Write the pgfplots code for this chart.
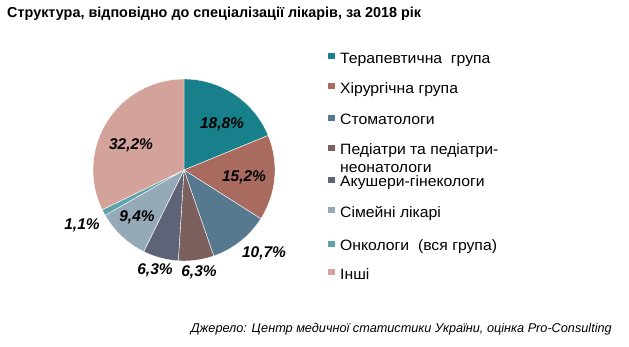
\documentclass[border=0pt]{standalone}
\usepackage{pgfplots}
\pgfplotsset{compat=1.18}
\usepackage{pgfplotstable}
\usepackage{fontspec}
\setmainfont{Liberation Sans}
\newfontfamily\legfont[FakeStretch=1.05]{Liberation Sans}
\definecolor{c0}{HTML}{18808A}
\definecolor{c1}{HTML}{A96B60}
\definecolor{c2}{HTML}{56798F}
\definecolor{c3}{HTML}{7B605E}
\definecolor{c4}{HTML}{5F6377}
\definecolor{c5}{HTML}{95A9B7}
\definecolor{c6}{HTML}{5EA3AC}
\definecolor{c7}{HTML}{D3A29B}
\pgfplotstableread[col sep=comma]{
idx,value,lx,ly
0,18.8,222,124
1,15.2,244,177
2,10.7,264,253
3,6.3,199,272
4,6.3,155,270
5,9.4,137,217
6,1.1,82,225
7,32.2,131,145
}\piedata
\begin{document}
\begin{tikzpicture}
\xdef\cumangle{90}
\foreach \i in {0,...,7}{%
  \pgfplotstablegetelem{\i}{value}\of\piedata
  \pgfmathsetmacro\v{\pgfplotsretval}%
  \pgfmathsetmacro\endang{\cumangle-3.6*\v}%
  \expandafter\xdef\csname sa\i\endcsname{\cumangle}%
  \expandafter\xdef\csname ea\i\endcsname{\endang}%
  \expandafter\xdef\csname val\i\endcsname{\v}%
  \pgfplotstablegetelem{\i}{lx}\of\piedata
  \expandafter\xdef\csname lx\i\endcsname{\pgfplotsretval}%
  \pgfplotstablegetelem{\i}{ly}\of\piedata
  \expandafter\xdef\csname ly\i\endcsname{\pgfplotsretval}%
  \xdef\cumangle{\endang}%
}
\begin{axis}[
  scale only axis, width=629bp, height=347bp,
  xmin=0, xmax=629, ymin=-347, ymax=0,
  hide axis, clip=false,
]
\path (axis cs:0,0) (axis cs:629,-347);
\pgfplotsinvokeforeach{0,...,7}{
  \fill[c#1, draw=white, line width=0.4pt] (axis cs:184,-170) -- ++(\csname sa#1\endcsname:91bp)
    arc[start angle=\csname sa#1\endcsname, end angle=\csname ea#1\endcsname, radius=91bp] -- cycle;
  \node[font=\fontsize{15.5bp}{17bp}\selectfont\bfseries\itshape, inner sep=0pt]
    at (axis cs:\csname lx#1\endcsname,-\csname ly#1\endcsname)
    {\pgfmathprintnumber[fixed,precision=1,fixed zerofill,use comma,assume math mode=true]{\csname val#1\endcsname}\%};
}
% title
\node[anchor=west, inner sep=0pt, font=\fontsize{14.4bp}{16bp}\selectfont\bfseries] at (axis cs:7,-14)
  {Структура, відповідно до спеціалізації лікарів, за 2018 рік};
% legend
\foreach \c/\y/\t in {c0/63.3/{Терапевтична\ \ група}, c1/93.3/{Хірургічна група}, c2/125/{Стоматологи},
  c3/155/{Педіатри та педіатри-}, c4/186.7/{Акушери-гінекологи}, c5/217.3/{Сімейні лікарі},
  c6/250.7/{Онкологи\ \ (вся група)}, c7/279.3/{Інші}}{
  \edef\tmp{\noexpand\fill[\c] (axis cs:328,-\y+10) rectangle (axis cs:334.5,-\y+4);}\tmp
  \edef\tmp{\noexpand\node[anchor=base west, inner sep=0pt, font=\noexpand\fontsize{15bp}{16bp}\noexpand\legfont] at (axis cs:340,-\y) {\unexpanded\expandafter{\t}};}\tmp
}
\node[anchor=base west, inner sep=0pt, font=\fontsize{15bp}{16bp}\legfont] at (axis cs:340,-172.8) {неонатологи};
% source
\node[anchor=east, inner sep=0pt, font=\fontsize{12.7bp}{14bp}\selectfont\itshape] at (axis cs:612,-329)
  {Джерело: Центр медичної статистики України, оцінка Pro-Consulting};
\end{axis}
\end{tikzpicture}
\end{document}
